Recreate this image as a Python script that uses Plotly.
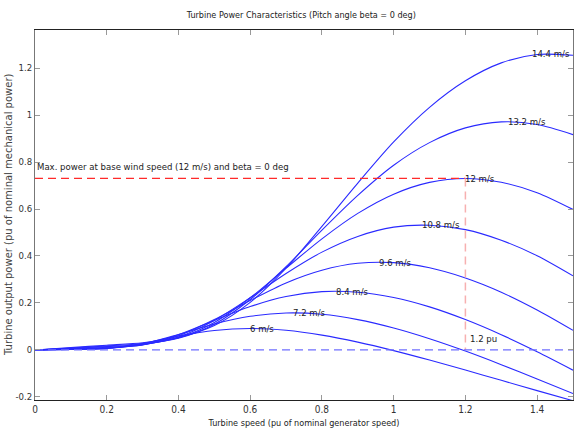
import plotly.graph_objects as go

speed = [0.0, 0.1, 0.2, 0.3, 0.4, 0.5, 0.6, 0.7, 0.8, 0.9, 1.0, 1.1, 1.2, 1.3, 1.4, 1.5]

wind_labels = ["6 m/s", "7.2 m/s", "8.4 m/s", "9.6 m/s", "10.8 m/s", "12 m/s", "13.2 m/s", "14.4 m/s"]

p_6 = [0, 0.0018, 0.0065, 0.0278, 0.0591, 0.0829, 0.0912, 0.0837, 0.0632, 0.0334, -0.0028, -0.0431, -0.0857, -0.1293, -0.1730, -0.2162]
p_72 = [0, 0.0025, 0.0066, 0.0253, 0.0658, 0.1107, 0.1432, 0.1573, 0.1518, 0.1292, 0.0935, 0.0479, -0.0048, -0.0626, -0.1233, -0.1856]
p_84 = [0, 0.0034, 0.0075, 0.0224, 0.0647, 0.1257, 0.1847, 0.2274, 0.2483, 0.2458, 0.2232, 0.1833, 0.1293, 0.0648, -0.0077, -0.0859]
p_96 = [0, 0.0045, 0.0091, 0.0210, 0.0600, 0.1293, 0.2106, 0.2855, 0.3395, 0.3688, 0.3717, 0.3496, 0.3063, 0.2457, 0.1701, 0.0835]
p_108 = [0, 0.0057, 0.0114, 0.0222, 0.0549, 0.1258, 0.2221, 0.3257, 0.4165, 0.4834, 0.5228, 0.5307, 0.5122, 0.4670, 0.4011, 0.3155]
p_12 = [0, 0.0070, 0.0140, 0.0236, 0.0517, 0.1171, 0.2220, 0.3483, 0.4730, 0.5813, 0.6631, 0.7133, 0.7300, 0.7136, 0.6695, 0.5981]
p_132 = [0, 0.0085, 0.0169, 0.0275, 0.0496, 0.1093, 0.2146, 0.3542, 0.5101, 0.6581, 0.7864, 0.8826, 0.9453, 0.9708, 0.9595, 0.9166]
p_144 = [0, 0.0100, 0.0202, 0.0307, 0.0526, 0.1038, 0.2024, 0.3482, 0.5264, 0.7106, 0.8856, 1.0328, 1.1458, 1.2220, 1.2580, 1.2543]

peak_x = [0.6, 0.72, 0.84, 0.96, 1.08, 1.2, 1.32, 1.44]
peak_y = [0.091, 0.158, 0.25, 0.374, 0.532, 0.73, 0.972, 1.261]

base_speed = 1.2
base_power = 0.73
x_ticks = [0, 0.2, 0.4, 0.6, 0.8, 1, 1.2, 1.4]
y_ticks = [-0.2, 0, 0.2, 0.4, 0.6, 0.8, 1, 1.2]

NARROW = "Liberation Sans Narrow, Arial Narrow, DejaVu Sans Condensed, Liberation Sans, Arial, sans-serif"

fig = go.Figure()
for series in [p_6, p_72, p_84, p_96, p_108, p_12, p_132, p_144]:
    fig.add_trace(go.Scatter(x=speed, y=series, mode="lines",
                             line=dict(color="#2a2aff", width=1.1, shape="spline", smoothing=0.8),
                             showlegend=False, hoverinfo="skip"))

# horizontal red dashed line at max power
fig.add_trace(go.Scatter(x=[0, base_speed], y=[base_power, base_power], mode="lines",
                         line=dict(color="#ff2a2a", width=1.2, dash="8px,5px"),
                         showlegend=False, hoverinfo="skip"))
# vertical dashed line at 1.2 pu
fig.add_trace(go.Scatter(x=[base_speed, base_speed], y=[base_power, 0], mode="lines",
                         line=dict(color="#f7b0b0", width=1.5, dash="8px,5px"),
                         showlegend=False, hoverinfo="skip"))
# blue dashed zero line
fig.add_trace(go.Scatter(x=[0, 1.5], y=[0, 0], mode="lines",
                         line=dict(color="#6f6fff", width=1.2, dash="8px,5px"),
                         showlegend=False, hoverinfo="skip"))

for i, (lx, ly, lt) in enumerate(zip(peak_x, peak_y, wind_labels)):
    if i == len(wind_labels) - 1:
        fig.add_annotation(x=1.5, y=ly, text=lt, showarrow=False, xanchor="right", yanchor="middle",
                           font=dict(family=NARROW, size=9.5, color="#222"), xshift=-1)
    else:
        fig.add_annotation(x=lx, y=ly, text=lt, showarrow=False, xanchor="left", yanchor="middle",
                           font=dict(family=NARROW, size=9.5, color="#222"), xshift=-2)

fig.add_annotation(x=0, y=0.78, text="Max. power at base wind speed (12 m/s) and beta = 0 deg",
                   showarrow=False, xanchor="left", yanchor="middle",
                   font=dict(family=NARROW, size=9.5, color="#222"))
fig.add_annotation(x=1.207, y=0.05, text="1.2 pu", showarrow=False, xanchor="left", yanchor="middle",
                   font=dict(family=NARROW, size=9.5, color="#222"))

# y-axis title as a rotated annotation for precise placement
fig.add_annotation(x=0, y=0.5, xref="paper", yref="paper", xanchor="center", yanchor="middle",
                   xshift=-27, textangle=-90, showarrow=False,
                   text="Turbine output power (pu of nominal mechanical power)",
                   font=dict(family="DejaVu Sans", size=10, color="#444"))

fig.update_layout(
    width=574, height=434,
    margin=dict(l=35, r=1, t=30, b=34),
    paper_bgcolor="white", plot_bgcolor="white",
    title=dict(text="Turbine Power Characteristics (Pitch angle beta = 0 deg)",
               x=0.525, xanchor="center", y=0.965, yanchor="middle",
               font=dict(family=NARROW, size=9, color="#222")),
    font=dict(family=NARROW, size=10, color="#333"),
)
fig.update_xaxes(range=[0, 1.5], tickvals=x_ticks, ticktext=["0", "0.2", "0.4", "0.6", "0.8", "1", "1.2", "1.4"],
                 showgrid=False, zeroline=False, showline=True, linecolor="#222", linewidth=1,
                 mirror="ticks", ticks="inside", ticklen=5, tickcolor="#999",
                 tickfont=dict(family=NARROW, size=10, color="#333"),
                 title=dict(text="Turbine speed (pu of nominal generator speed)", standoff=5,
                            font=dict(family=NARROW, size=9, color="#222")))
fig.update_yaxes(range=[-0.213, 1.362], tickvals=y_ticks, ticktext=["-0.2", "0", "0.2", "0.4", "0.6", "0.8", "1", "1.2"],
                 showgrid=False, zeroline=False, showline=True, linecolor="#777", linewidth=1,
                 mirror="ticks", ticks="inside", ticklen=5, tickcolor="#999",
                 tickfont=dict(family=NARROW, size=9.5, color="#333"))

fig.write_html("out.html")
